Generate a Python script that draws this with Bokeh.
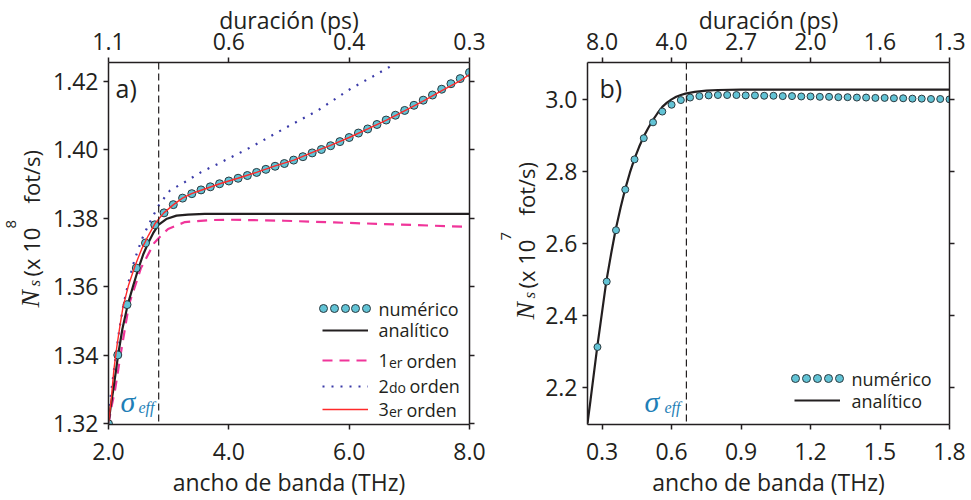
import math
from bokeh.plotting import figure
from bokeh.models import (LinearAxis, FixedTicker, NumeralTickFormatter, Span, Label,
                          Legend, LegendItem, Range1d)
from bokeh.layouts import row
from bokeh.embed import file_html
from bokeh.resources import INLINE

# ---------------- panel a) data ----------------
bw_num_a = [2.000, 2.154, 2.308, 2.462, 2.615, 2.769, 2.923, 3.077, 3.231, 3.385,
            3.538, 3.692, 3.846, 4.000, 4.154, 4.308, 4.462, 4.615, 4.769, 4.923,
            5.077, 5.231, 5.385, 5.538, 5.692, 5.846, 6.000, 6.154, 6.308, 6.462,
            6.615, 6.769, 6.923, 7.077, 7.231, 7.385, 7.538, 7.692, 7.846, 8.000]
ns_num_a = [1.3200, 1.3401, 1.3548, 1.3655, 1.3728, 1.3781, 1.3816, 1.3840, 1.3859, 1.3872,
            1.3883, 1.3892, 1.3901, 1.3909, 1.3917, 1.3925, 1.3934, 1.3943, 1.3952, 1.3960,
            1.3970, 1.3980, 1.3991, 1.4001, 1.4012, 1.4024, 1.4036, 1.4049, 1.4061, 1.4074,
            1.4087, 1.4101, 1.4115, 1.4130, 1.4145, 1.4160, 1.4177, 1.4193, 1.4208, 1.4226]

bw_ana_a = [2.00, 2.04, 2.08, 2.16, 2.23, 2.32, 2.41, 2.50, 2.58, 2.66, 2.74, 2.83,
            2.96, 3.13, 3.32, 3.60, 4.00, 8.00]
ns_ana_a = [1.3200, 1.3255, 1.3300, 1.3401, 1.3476, 1.3548, 1.3603, 1.3655, 1.3696, 1.3728,
            1.3756, 1.3781, 1.3798, 1.3808, 1.3811, 1.3813, 1.3813, 1.3813]

bw_o1_a = [2.00, 2.05, 2.11, 2.20, 2.34, 2.54, 2.76, 2.87, 2.99, 3.27, 3.71, 4.00,
           4.92, 5.75, 6.80, 8.00]
ns_o1_a = [1.3200, 1.3250, 1.3300, 1.3401, 1.3548, 1.3655, 1.3728, 1.3749, 1.3769, 1.3789,
           1.3795, 1.3796, 1.3793, 1.3788, 1.3782, 1.3775]

bw_o2_a = [2.00, 2.02, 2.05, 2.10, 2.18, 2.25, 2.33, 2.41, 2.49, 2.57, 2.66, 2.75, 2.85,
           3.02, 3.27, 3.54, 3.82, 4.37, 4.92, 5.48, 6.03, 6.40, 6.70]
ns_o2_a = [1.3200, 1.3260, 1.3300, 1.3370, 1.3476, 1.3549, 1.3612, 1.3665, 1.3708, 1.3745,
           1.3779, 1.3810, 1.3842, 1.3881, 1.3906, 1.3935, 1.3959, 1.4008, 1.4062, 1.4115,
           1.4179, 1.4215, 1.4245]

bw_o3_a = [2.00, 2.05, 2.09, 2.14, 2.19, 2.24, 2.33, 2.44, 2.55, 2.66, 2.77, 2.92, 3.08,
           3.23, 3.38, 3.54, 3.85, 4.15, 4.46, 4.77, 5.08, 5.38, 5.69, 6.00, 6.31, 6.62,
           6.92, 7.23, 7.54, 7.85, 8.00]
ns_o3_a = [1.3200, 1.3281, 1.3359, 1.3427, 1.3486, 1.3540, 1.3603, 1.3661, 1.3710, 1.3749,
           1.3784, 1.3816, 1.3840, 1.3859, 1.3872, 1.3882, 1.3901, 1.3917, 1.3934, 1.3953,
           1.3970, 1.3992, 1.4013, 1.4036, 1.4061, 1.4087, 1.4114, 1.4142, 1.4173, 1.4202,
           1.4220]

sigma_eff_a = 2.834
xticks_a = [2.0, 4.0, 6.0, 8.0]
yticks_a = [1.32, 1.34, 1.36, 1.38, 1.40, 1.42]
top_labels_a = ["1.1", "0.6", "0.4", "0.3"]

# ---------------- panel b) data ----------------
bw_num_b = [0.28, 0.32, 0.36, 0.40, 0.44, 0.48, 0.52, 0.56, 0.60, 0.64, 0.68, 0.72, 0.76,
            0.80, 0.84, 0.88, 0.92, 0.96, 1.00, 1.04, 1.08, 1.12, 1.16, 1.20, 1.24, 1.28,
            1.32, 1.36, 1.40, 1.44, 1.48, 1.52, 1.56, 1.60, 1.64, 1.68, 1.72, 1.76, 1.80]
ns_num_b = [2.312, 2.494, 2.637, 2.750, 2.834, 2.893, 2.937, 2.967, 2.986, 2.999, 3.006,
            3.010, 3.012, 3.013, 3.013, 3.013, 3.012, 3.012, 3.011, 3.011, 3.010, 3.010,
            3.009, 3.009, 3.008, 3.008, 3.007, 3.007, 3.006, 3.006, 3.005, 3.005, 3.004,
            3.004, 3.003, 3.003, 3.002, 3.002, 3.001]

bw_ana_b = [0.237, 0.25, 0.279, 0.30, 0.318, 0.34, 0.358, 0.38, 0.40, 0.42, 0.44, 0.46,
            0.48, 0.50, 0.52, 0.54, 0.56, 0.58, 0.60, 0.62, 0.64, 0.66, 0.70, 0.75, 0.80,
            0.90, 1.80]
ns_ana_b = [2.100, 2.164, 2.312, 2.410, 2.494, 2.575, 2.637, 2.700, 2.752, 2.797, 2.836,
            2.869, 2.898, 2.922, 2.944, 2.963, 2.980, 2.992, 3.001, 3.008, 3.013, 3.017,
            3.022, 3.025, 3.027, 3.028, 3.028]

sigma_eff_b = 0.664
xticks_b = [0.3, 0.6, 0.9, 1.2, 1.5, 1.8]
yticks_b = [2.2, 2.4, 2.6, 2.8, 3.0]
top_labels_b = ["8.0", "4.0", "2.7", "2.0", "1.6", "1.3"]

# ---------------- style ----------------
SANS = "Open Sans"
SERIF = "Liberation Serif"
INK = "#231f20"
DOT_FILL = "#62c3d5"
DOT_LINE = "#2b3a40"
PINK = "#f0359a"
NAVY = "#3a3aa8"
RED = "#ff2a2a"
SIG = "#1f7fb7"
FS = "23px"
LFS = "18px"
SFS = "14px"


def style_axis(ax):
    ax.axis_line_color = INK
    ax.axis_line_width = 1.5
    ax.major_tick_line_color = INK
    ax.major_tick_line_width = 1.5
    ax.major_tick_in = 0
    ax.major_tick_out = 5
    ax.minor_tick_line_color = None
    ax.major_label_text_font = SANS
    ax.major_label_text_font_size = FS
    ax.major_label_text_color = INK
    ax.axis_label_text_font = SANS
    ax.axis_label_text_font_size = FS
    ax.axis_label_text_font_style = "normal"
    ax.axis_label_text_color = INK


def blank_fig(width):
    f = figure(width=width, height=500, x_range=Range1d(0, 1), y_range=Range1d(0, 1),
               output_backend="svg", toolbar_location=None,
               x_axis_location=None, y_axis_location=None,
               min_border_left=0, min_border_right=0, min_border_top=0, min_border_bottom=0)
    f.grid.visible = False
    f.outline_line_color = None
    f.background_fill_color = "white"
    f.border_fill_color = "white"
    return f


def make_panel(width, xr, yr, xt, yt, xfmt, yfmt, top_labels, mb):
    p = figure(width=width, height=500, x_range=Range1d(*xr), y_range=Range1d(*yr),
               output_backend="svg", toolbar_location=None,
               x_axis_location=None, y_axis_location=None,
               min_border_left=mb[0], min_border_right=mb[1],
               min_border_top=mb[2], min_border_bottom=mb[3])
    p.grid.visible = False
    p.outline_line_color = None
    p.background_fill_color = "white"
    p.border_fill_color = "white"

    bottom = LinearAxis(ticker=FixedTicker(ticks=xt), formatter=NumeralTickFormatter(format=xfmt),
                        axis_label="ancho de banda (THz)")
    style_axis(bottom)
    bottom.major_label_standoff = 13
    bottom.axis_label_standoff = 3

    top = LinearAxis(ticker=FixedTicker(ticks=xt),
                     major_label_overrides={t: s for t, s in zip(xt, top_labels)},
                     axis_label="duración (ps)")
    style_axis(top)
    top.major_label_standoff = 8
    top.axis_label_standoff = -6

    left = LinearAxis(ticker=FixedTicker(ticks=yt), formatter=NumeralTickFormatter(format=yfmt))
    style_axis(left)
    left.major_label_standoff = 5

    right = LinearAxis(ticker=FixedTicker(ticks=yt),
                       major_label_overrides={t: "" for t in yt})
    style_axis(right)
    right.major_label_standoff = 0

    p.add_layout(bottom, "below")
    p.add_layout(top, "above")
    p.add_layout(left, "left")
    p.add_layout(right, "right")
    return p


def add_text(p, text, x, y, size, font=SANS, style="normal", color=INK, angle=0.0,
             align="left", baseline="alphabetic"):
    p.add_layout(Label(x=x, y=y, x_units="screen", y_units="screen", text=text,
                       text_font=font, text_font_size=size, text_font_style=style,
                       text_color=color, angle=angle, text_align=align,
                       text_baseline=baseline))


def line_legend(p, renderer, vx, vy, gw):
    lg = Legend(items=[LegendItem(label="", renderers=[renderer])], location=(vx, vy),
                glyph_width=gw, glyph_height=26, label_width=0, label_height=26,
                label_standoff=0, padding=0, margin=0, spacing=0, border_line_color=None,
                background_fill_alpha=0, label_text_font_size="1px")
    p.add_layout(lg)


def dot_legend(p, renderer, cx, cy):
    lg = Legend(items=[LegendItem(label="", renderers=[renderer])], location=(cx - 10, cy - 10),
                glyph_width=20, glyph_height=20, label_width=0, label_height=0,
                label_standoff=0, padding=0, margin=0, spacing=0,
                border_line_color=None, background_fill_alpha=0,
                label_text_font_size="1px")
    p.add_layout(lg)


def legend_text(p, text, x, yc):
    add_text(p, text, x, yc, LFS, baseline="middle")


def order_text(p, num, suf, gap, x, yc):
    add_text(p, num, x, yc, LFS, baseline="middle")
    add_text(p, suf, x + 10.5, yc - 1.5, SFS, baseline="middle")
    add_text(p, "orden", x + gap, yc, LFS, baseline="middle")


def y_label(f, xb, ys, exp):
    # xb: baseline x of the main text; ys: start (bottom) of the text, screen units
    a = math.pi / 2
    add_text(f, "N", xb, ys, "26px", font=SERIF, style="italic", angle=a)
    add_text(f, "s", xb + 3.5, ys + 21, "17px", font=SERIF, style="italic", angle=a)
    add_text(f, "(x 10", xb, ys + 31, "22px", angle=a)
    add_text(f, exp, xb - 20, ys + 79, "15px", angle=a)
    add_text(f, "fot/s)", xb, ys + 104, "22px", angle=a)


TOP = 62

# ================= y-label strip for a) =================
la = blank_fig(50)
y_label(la, 30, 117, "8")

# ================= panel a =================
pa = make_panel(440, (2.0, 8.0), (1.3198, 1.4255), xticks_a, yticks_a, "0.0", "0.00",
                top_labels_a, (57, 21, TOP, 75))
pa.add_layout(Span(location=sigma_eff_a, dimension="height", line_color=INK,
                   line_width=1.2, line_dash="7 4"))
r_o1a = pa.line(bw_o1_a, ns_o1_a, line_color=PINK, line_width=2.2, line_dash="10 7")
r_anaa = pa.line(bw_ana_a, ns_ana_a, line_color=INK, line_width=2.2)
r_o2a = pa.line(bw_o2_a, ns_o2_a, line_color=NAVY, line_width=2.2, line_dash="2 7")
r_numa = pa.scatter(bw_num_a, ns_num_a, size=8, fill_color=DOT_FILL, line_color=DOT_LINE,
                    line_width=1)
r_o3a = pa.line(bw_o3_a, ns_o3_a, line_color=RED, line_width=1.4)

for k in range(5):
    dot_legend(pa, r_numa, 215.3 + 10.7 * k, 115.7)
legend_text(pa, "numérico", 270, 116)
line_legend(pa, r_anaa, 214, 81, 46)
legend_text(pa, "analítico", 270, 94.3)
line_legend(pa, r_o1a, 214, 51, 46)
order_text(pa, "1", "er", 28, 270, 64)
line_legend(pa, r_o2a, 214, 25, 46)
order_text(pa, "2", "do", 31, 270, 38.3)
line_legend(pa, r_o3a, 214, 2, 46)
order_text(pa, "3", "er", 28, 270, 15)

add_text(pa, "a)", 7, 337, "25px")
add_text(pa, "σ", 12, 23, "30px", font=SERIF, style="italic", color=SIG)
add_text(pa, "eff", 30, 17, "16px", font=SERIF, style="italic", color=SIG)

# ================= y-label strip for b) =================
lb = blank_fig(50)
y_label(lb, 35, 105, "7")

# ================= panel b =================
pb = make_panel(431, (0.237, 1.8), (2.0965, 3.1035), xticks_b, yticks_b, "0.0", "0.0",
                top_labels_b, (47, 22, TOP, 75))
pb.add_layout(Span(location=sigma_eff_b, dimension="height", line_color=INK,
                   line_width=1.2, line_dash="7 4"))
r_anab = pb.line(bw_ana_b, ns_ana_b, line_color=INK, line_width=2.2)
r_numb = pb.scatter(bw_num_b, ns_num_b, size=7, fill_color=DOT_FILL, line_color=DOT_LINE,
                    line_width=1)

for k in range(5):
    dot_legend(pb, r_numb, 208 + 10.9 * k, 45.7)
legend_text(pb, "numérico", 264, 46)
line_legend(pb, r_anab, 207, 11, 46)
legend_text(pb, "analítico", 264, 24)

add_text(pb, "b)", 12, 337, "25px")
add_text(pb, "σ", 57, 23, "30px", font=SERIF, style="italic", color=SIG)
add_text(pb, "eff", 77, 17, "16px", font=SERIF, style="italic", color=SIG)

layout = row(la, pa, lb, pb)
open("out.html", "w").write(file_html(layout, INLINE))
